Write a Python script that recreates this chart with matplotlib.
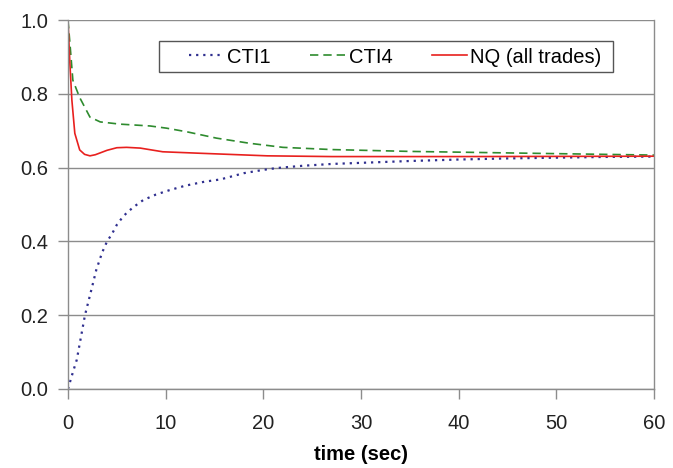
import matplotlib

matplotlib.use("Agg")
import matplotlib.pyplot as plt
from matplotlib.patches import Rectangle

plt.rcParams["font.family"] = ["Liberation Sans", "DejaVu Sans"]

# valores
t_cti1 = [0, 0.5, 0.9, 1.74, 2.5, 2.9, 3.5, 4.0, 4.5, 5.0, 5.6, 6.0, 6.7, 7.7,
          9.0, 10.4, 12.0, 14.0, 15.6, 18.0, 20.0, 21.4, 24.0, 27.0, 30.0,
          35.0, 40.0, 45.0, 50.0, 55.0, 60.0]
cti1 = [0.0, 0.045, 0.079, 0.2, 0.28, 0.323, 0.37, 0.40, 0.42, 0.445, 0.466,
        0.477, 0.493, 0.512, 0.527, 0.539, 0.551, 0.562, 0.568, 0.585, 0.594,
        0.599, 0.605, 0.610, 0.613, 0.618, 0.622, 0.625, 0.627, 0.629, 0.630]

t_cti4 = [0, 0.2, 0.5, 1.2, 2.25, 3.3, 5.3, 8.4, 10.1, 12.2, 15.2, 18.6,
          22.0, 27.0, 35.0, 47.3, 60.0]
cti4 = [1.0, 0.937, 0.837, 0.79, 0.737, 0.724, 0.718, 0.713, 0.707, 0.697,
        0.680, 0.666, 0.655, 0.649, 0.644, 0.639, 0.634]

t_nq = [0, 0.2, 0.4, 0.7, 1.2, 1.7, 2.25, 2.8, 3.3, 4.0, 5.0, 6.0, 7.4, 9.7,
        13.5, 20.4, 27.0, 40.0, 60.0]
nq = [1.0, 0.88, 0.783, 0.693, 0.648, 0.636, 0.632, 0.635, 0.640, 0.647,
      0.654, 0.655, 0.653, 0.643, 0.639, 0.632, 0.630, 0.630, 0.631]

fig = plt.figure(figsize=(6.73, 4.68), dpi=100)
ax = fig.add_axes([0.101, 0.169, 0.871, 0.788])

cinza = "#8c8c8c"
ax.plot(t_cti1, cti1, color="#2f2f8f", ls=(0, (1, 2.2)), lw=1.6, label="CTI1")
ax.plot(t_cti4, cti4, color="#2e8b2e", ls=(0, (5, 3)), lw=1.2, label="CTI4")
ax.plot(t_nq, nq, color="#e8201e", lw=1.2, label="NQ (all trades)")

ax.set_xlim(0, 60)
ax.set_ylim(0, 1.0)
ax.set_xticks(range(0, 61, 10))
ax.set_yticks([0.0, 0.2, 0.4, 0.6, 0.8, 1.0])
ax.set_yticklabels(["0.0", "0.2", "0.4", "0.6", "0.8", "1.0"])
ax.grid(axis="y", color=cinza, lw=1.0)
ax.set_axisbelow(True)
for lado in ("left", "right", "bottom"):
    ax.spines[lado].set_color(cinza)
    ax.spines[lado].set_linewidth(1.0)
ax.spines["top"].set_visible(False)
ax.tick_params(axis="both", colors=cinza, labelcolor="#222222",
               labelsize=14.5, length=7, width=1.0)
ax.tick_params(axis="x", pad=11)
ax.tick_params(axis="y", pad=7)
ax.set_xlabel("time (sec)", fontsize=14.5, fontweight="bold", labelpad=9)

# moldura da legenda desenhada à parte (mais larga que o padrão)
ax.add_patch(Rectangle((0.1553, 0.859), 0.7747, 0.084, transform=ax.transAxes,
                       fill=True, facecolor="white", edgecolor="#555555",
                       lw=1.0, zorder=4))
leg = ax.legend(ncol=3, loc="center left", bbox_to_anchor=(0.1775, 0.90),
                fontsize=14.5, handlelength=1.75, columnspacing=1.95,
                frameon=False, borderpad=0.35, handletextpad=0.15)
leg.set_zorder(5)

fig.savefig("out.png", dpi=100)
